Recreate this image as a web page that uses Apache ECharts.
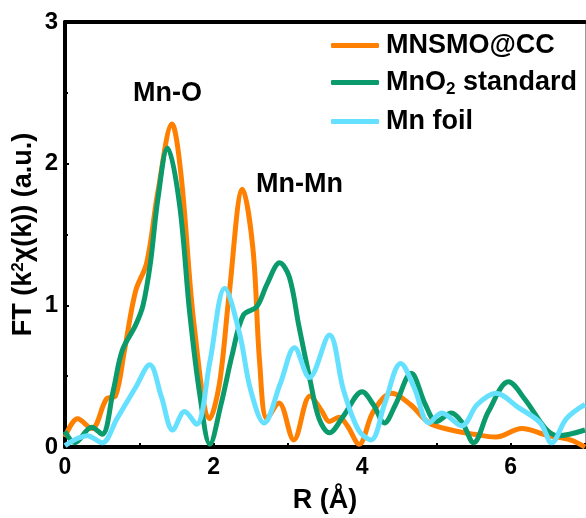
<!DOCTYPE html>
<html>
<head>
<meta charset="utf-8">
<script src="https://cdn.jsdelivr.net/npm/echarts@6/dist/echarts.min.js"></script>
<style>html,body{margin:0;padding:0;background:#fff}#c{width:586px;height:518px}</style>
</head>
<body>
<div id="c"></div>
<script>
const seriesNames = ['MNSMO@CC', 'MnO2 standard', 'Mn foil'];
const mnsmo = [[0,0.07],[0.17,0.2],[0.36,0.13],[0.56,0.34],[0.68,0.36],[0.8,0.68],[0.95,1.1],[1.1,1.3],[1.25,1.8],[1.44,2.28],[1.56,1.93],[1.74,0.85],[1.95,0.2],[2.08,0.45],[2.21,1.08],[2.39,1.82],[2.53,1.4],[2.62,0.6],[2.72,0.2],[2.88,0.31],[3.08,0.05],[3.3,0.36],[3.45,0.26],[3.56,0.18],[3.69,0.21],[3.8,0.15],[3.96,0.02],[4.15,0.25],[4.4,0.38],[4.65,0.3],[4.9,0.17],[5.2,0.12],[5.5,0.09],[5.8,0.07],[6.15,0.13],[6.5,0.08],[6.8,0.05],[7,0.0]];
const mno2 = [[0,0.11],[0.13,0.03],[0.36,0.14],[0.5,0.09],[0.65,0.4],[0.77,0.68],[0.95,0.86],[1.05,1.0],[1.15,1.3],[1.25,1.75],[1.38,2.11],[1.54,1.72],[1.68,0.94],[1.82,0.35],[1.95,0.02],[2.1,0.3],[2.25,0.65],[2.4,0.93],[2.58,0.99],[2.72,1.15],[2.89,1.30],[3.02,1.2],[3.15,0.85],[3.3,0.47],[3.42,0.2],[3.56,0.1],[3.75,0.22],[4.0,0.39],[4.15,0.3],[4.3,0.17],[4.45,0.3],[4.66,0.52],[4.85,0.3],[5.0,0.18],[5.2,0.24],[5.35,0.17],[5.5,0.03],[5.7,0.25],[5.97,0.46],[6.2,0.33],[6.47,0.13],[6.64,0.08],[7,0.12]];
const mnfoil = [[0,0.01],[0.3,0.08],[0.5,0.03],[0.7,0.2],[0.95,0.42],[1.14,0.58],[1.3,0.35],[1.45,0.12],[1.61,0.25],[1.77,0.16],[1.95,0.6],[2.15,1.12],[2.35,0.8],[2.5,0.4],[2.68,0.17],[2.9,0.45],[3.09,0.7],[3.29,0.49],[3.56,0.79],[3.75,0.4],[3.95,0.12],[4.12,0.05],[4.3,0.3],[4.52,0.59],[4.7,0.42],[4.9,0.17],[5.07,0.24],[5.34,0.15],[5.55,0.3],[5.8,0.38],[6.1,0.28],[6.4,0.17],[6.55,0.03],[6.75,0.2],[7,0.3]];
const colors = ['#FF7F00', '#0A9A6C', '#66E0FF'];
const font = 'Arial, "Liberation Sans", sans-serif';

const chart = echarts.init(document.getElementById('c'));
const base = {type:'line', showSymbol:false, smooth:0.35, lineStyle:{width:5}};
chart.setOption({
  animation:false,
  grid:{left:65, right:1, top:22, bottom:71, containLabel:false, outerBoundsMode:'none'},
  legend:{
    orient:'vertical', left:326, top:27, itemGap:10,
    icon:'roundRect', itemWidth:48, itemHeight:5,
    textStyle:{fontFamily:font, fontWeight:'bold', fontSize:27, color:'#000', padding:[0,0,0,2],
      rich:{s:{fontFamily:font, fontWeight:'bold', fontSize:17, color:'#000', padding:[14,0,0,0]}, n:{fontFamily:font, fontWeight:'bold', fontSize:27, color:'#000'}}},
    formatter:function(n){ return n==='MnO2 standard' ? '{n|MnO}{s|2}{n| standard}' : n; },
    data:seriesNames
  },
  xAxis:[{
    type:'value', min:0, max:7, interval:1,
    axisLine:{onZero:false, lineStyle:{color:'#000', width:4}},
    axisTick:{inside:true, length:4, lineStyle:{width:2}},
    splitLine:{show:false},
    axisLabel:{fontFamily:font, fontWeight:'bold', fontSize:23, color:'#000', margin:9,
      formatter:function(v){ return v%2===0 ? String(v) : ''; }},
    name:'R (Å)', nameLocation:'middle', nameGap:40,
    nameTextStyle:{fontFamily:font, fontWeight:'bold', fontSize:27, color:'#000'}
  },{
    type:'value', min:0, max:7, position:'top',
    axisLine:{show:true, onZero:false, lineStyle:{color:'#000', width:4}},
    axisTick:{show:false}, axisLabel:{show:false}, splitLine:{show:false}
  }],
  yAxis:[{
    type:'value', min:0, max:3, interval:1,
    axisLine:{show:true, onZero:false, lineStyle:{color:'#000', width:4}},
    axisTick:{show:true, inside:true, length:4, lineStyle:{width:2}},
    minorTick:{show:true, splitNumber:2, length:3, lineStyle:{color:'#000', width:2}},
    splitLine:{show:false},
    axisLabel:{fontFamily:font, fontWeight:'bold', fontSize:24, color:'#000', margin:7},
    name:'{a|FT (k}{s|2}{a|χ(k)) (a.u.)}', nameLocation:'middle', nameGap:28, nameMoveOverlap:false,
    nameTextStyle:{fontFamily:font, fontWeight:'bold', fontSize:27, color:'#000',
      rich:{a:{fontFamily:font, fontWeight:'bold', fontSize:27, color:'#000'}, s:{fontFamily:font, fontWeight:'bold', fontSize:17, color:'#000', padding:[0,0,10,0]}}}
  },{
    type:'value', min:0, max:3, position:'right',
    axisLine:{show:true, onZero:false, lineStyle:{color:'#999', width:1}},
    axisTick:{show:false}, axisLabel:{show:false}, splitLine:{show:false}
  }],
  graphic:[
    {type:'text', left:133, top:80, style:{text:'Mn-O', font:'bold 27px '+font, fill:'#000'}},
    {type:'text', left:256, top:171, style:{text:'Mn-Mn', font:'bold 27px '+font, fill:'#000'}}
  ],
  series:[
    Object.assign({}, base, {name:seriesNames[0], data:mnsmo, itemStyle:{color:colors[0]}, lineStyle:{width:5, color:colors[0]}}),
    Object.assign({}, base, {name:seriesNames[1], data:mno2, itemStyle:{color:colors[1]}, lineStyle:{width:5, color:colors[1]}}),
    Object.assign({}, base, {name:seriesNames[2], data:mnfoil, itemStyle:{color:colors[2]}, lineStyle:{width:5, color:colors[2]}})
  ]
});
</script>
</body>
</html>
